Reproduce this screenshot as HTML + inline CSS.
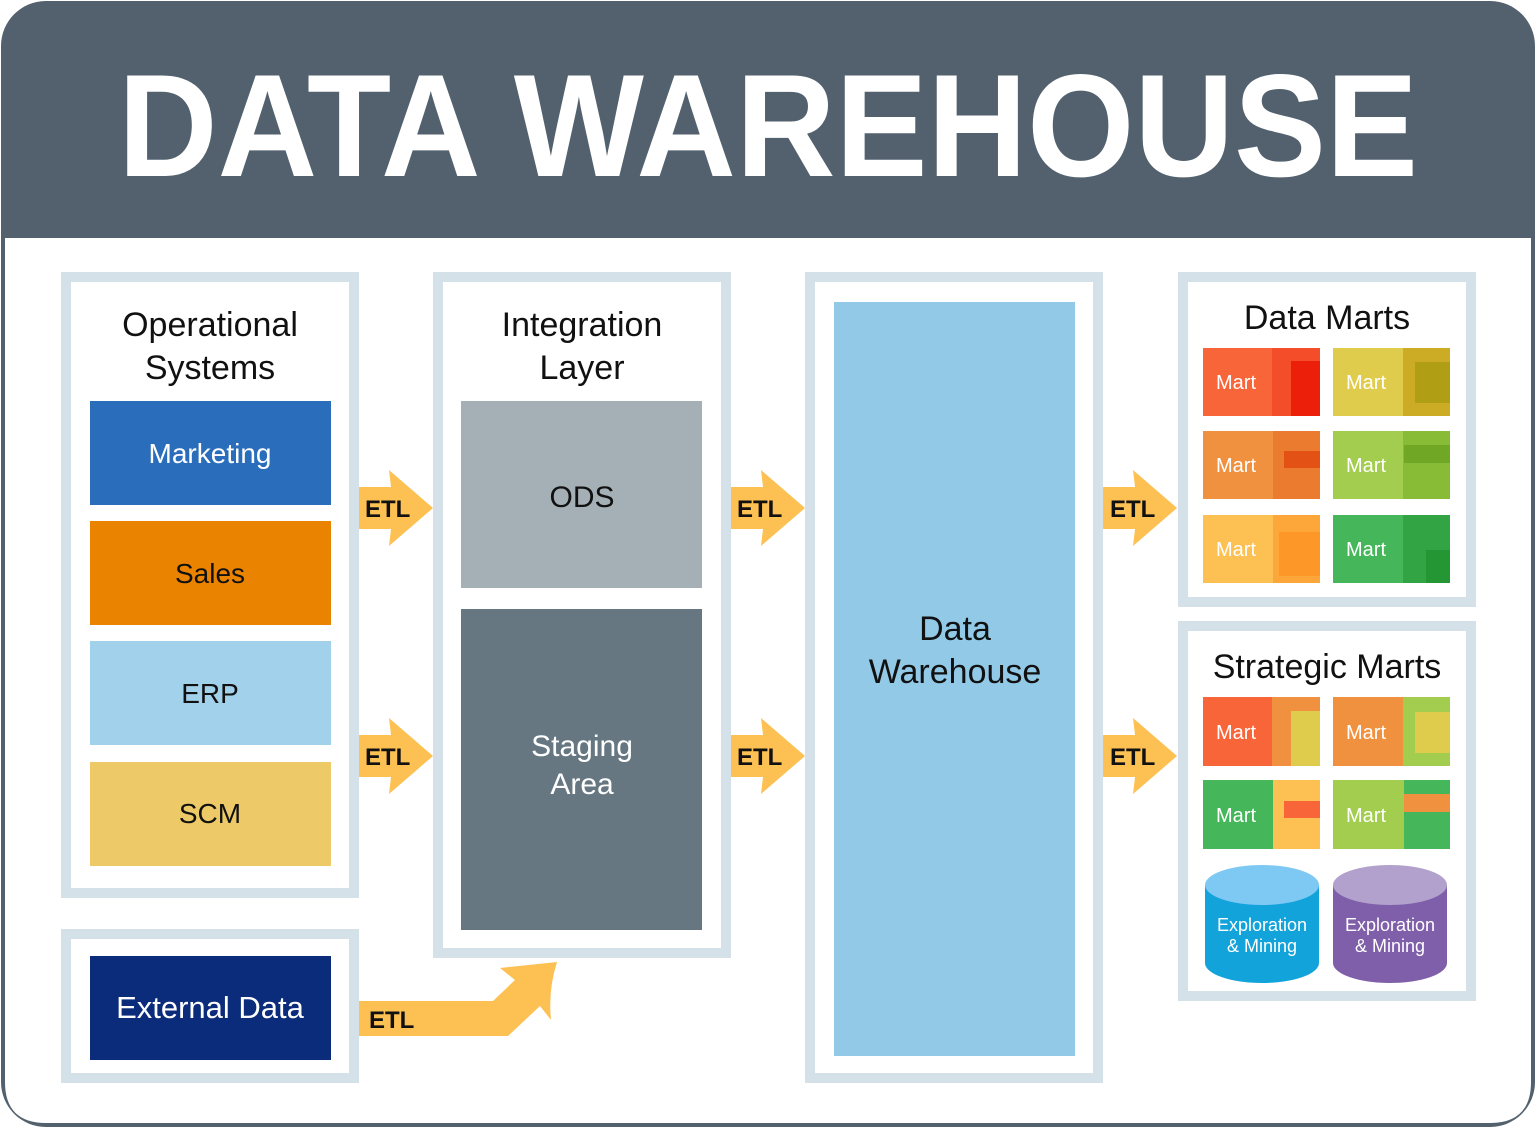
<!DOCTYPE html>
<html><head><meta charset="utf-8"><style>html,body{margin:0;padding:0;background:#fff}svg{display:block}</style></head>
<body>
<svg width="1536" height="1128" viewBox="0 0 1536 1128" xmlns="http://www.w3.org/2000/svg" font-family="'Liberation Sans', 'DejaVu Sans', sans-serif">
<defs>
<g id="arr"><path d="M0,-21 L32,-21 L30,-38 L74,0 L30,38 L32,21 L0,21 Z" fill="#fdc052"/></g>
</defs>
<rect x="1" y="1" width="1534" height="1126" rx="45" fill="#52616d"/>
<path d="M5,238 H1531 V1082 Q1531,1123 1490,1123 H46 Q5,1123 5,1082 Z" fill="#fff"/>
<text x="768" y="176" text-anchor="middle" font-size="146" font-weight="bold" fill="#fff" textLength="1300" lengthAdjust="spacingAndGlyphs">DATA WAREHOUSE</text>

<g fill="#fff" stroke="#d5e1e9" stroke-width="10">
<rect x="66" y="277" width="288" height="616"/>
<rect x="438" y="277" width="288" height="676"/>
<rect x="810" y="277" width="288" height="801"/>
<rect x="1183" y="277" width="288" height="325"/>
<rect x="1183" y="626" width="288" height="370"/>
<rect x="66" y="934" width="288" height="144"/>
</g>

<g font-size="34" fill="#111" text-anchor="middle">
<text x="210" y="336">Operational</text><text x="210" y="379">Systems</text>
<text x="582" y="336">Integration</text><text x="582" y="379">Layer</text>
<text x="1327" y="329">Data Marts</text>
<text x="1327" y="678">Strategic Marts</text>
</g>

<rect x="90" y="401" width="241" height="104" fill="#2a6ebb"/>
<rect x="90" y="521" width="241" height="104" fill="#e98300"/>
<rect x="90" y="641" width="241" height="104" fill="#a2d1ec"/>
<rect x="90" y="762" width="241" height="104" fill="#edca67"/>
<rect x="90" y="956" width="241" height="104" fill="#0a2c7a"/>
<rect x="461" y="401" width="241" height="187" fill="#a5b0b6"/>
<rect x="461" y="609" width="241" height="321" fill="#667782"/>
<rect x="834" y="302" width="241" height="754" fill="#92c9e7"/>

<g font-size="28" text-anchor="middle">
<text x="210" y="463" fill="#fff">Marketing</text>
<text x="210" y="583" fill="#111">Sales</text>
<text x="210" y="703" fill="#111">ERP</text>
<text x="210" y="823" fill="#111">SCM</text>
<text x="210" y="1018" fill="#fff" font-size="31">External Data</text>
<text x="582" y="507" fill="#111" font-size="30">ODS</text>
<text x="582" y="756" fill="#fff" font-size="30">Staging</text>
<text x="582" y="794" fill="#fff" font-size="30">Area</text>
<text x="955" y="640" fill="#111" font-size="34">Data</text>
<text x="955" y="683" fill="#111" font-size="34">Warehouse</text>
</g>

<rect x="1203" y="348" width="117" height="68" fill="#f76539"/><rect x="1272" y="348" width="48" height="68" fill="#f44d2a"/><rect x="1291" y="361" width="29" height="55" fill="#ec1f0b"/>
<rect x="1333" y="348" width="117" height="68" fill="#e0cc4c"/><rect x="1403" y="348" width="47" height="68" fill="#cdac25"/><rect x="1415" y="362" width="35" height="41" fill="#b09f14"/>
<rect x="1203" y="431" width="117" height="68" fill="#f09140"/><rect x="1273" y="431" width="47" height="68" fill="#eb7b2e"/><rect x="1284" y="451" width="36" height="17" fill="#e35214"/>
<rect x="1333" y="431" width="117" height="68" fill="#a3cd4e"/><rect x="1403" y="431" width="47" height="68" fill="#88bb36"/><rect x="1404" y="445" width="46" height="18" fill="#70a826"/>
<rect x="1203" y="515" width="117" height="68" fill="#fdc052"/><rect x="1273" y="515" width="47" height="68" fill="#fda73a"/><rect x="1279" y="532" width="41" height="44" fill="#fd9728"/>
<rect x="1333" y="515" width="117" height="68" fill="#45b65a"/><rect x="1403" y="515" width="47" height="68" fill="#33a444"/><rect x="1426" y="550" width="24" height="33" fill="#249634"/>

<rect x="1203" y="697" width="117" height="69" fill="#f76539"/><rect x="1272" y="697" width="48" height="69" fill="#f09140"/><rect x="1291" y="711" width="29" height="55" fill="#e0cc4c"/>
<rect x="1333" y="697" width="117" height="69" fill="#f09140"/><rect x="1403" y="697" width="47" height="69" fill="#a3cd4e"/><rect x="1415" y="712" width="35" height="41" fill="#e0cc4c"/>
<rect x="1203" y="780" width="117" height="69" fill="#45b65a"/><rect x="1273" y="780" width="47" height="69" fill="#fdc052"/><rect x="1284" y="801" width="36" height="17" fill="#f76539"/>
<rect x="1333" y="780" width="117" height="69" fill="#a3cd4e"/><rect x="1404" y="780" width="46" height="69" fill="#45b65a"/><rect x="1404" y="794" width="46" height="18" fill="#f09140"/>

<g font-size="20" fill="#fff">
<text x="1216" y="389">Mart</text><text x="1346" y="389">Mart</text>
<text x="1216" y="472">Mart</text><text x="1346" y="472">Mart</text>
<text x="1216" y="556">Mart</text><text x="1346" y="556">Mart</text>
<text x="1216" y="739">Mart</text><text x="1346" y="739">Mart</text>
<text x="1216" y="822">Mart</text><text x="1346" y="822">Mart</text>
</g>

<path d="M1205,885 V963 A57,20 0 0 0 1319,963 V885 Z" fill="#13a3db"/>
<ellipse cx="1262" cy="885" rx="57" ry="20" fill="#7ec8f4"/>
<path d="M1333,885 V963 A57,20 0 0 0 1447,963 V885 Z" fill="#7f5fa9"/>
<ellipse cx="1390" cy="885" rx="57" ry="20" fill="#b1a1cc"/>
<g font-size="18" fill="#fff" text-anchor="middle">
<text x="1262" y="931">Exploration</text><text x="1262" y="952">&amp; Mining</text>
<text x="1390" y="931">Exploration</text><text x="1390" y="952">&amp; Mining</text>
</g>

<use href="#arr" x="359" y="508"/><use href="#arr" x="359" y="756"/>
<use href="#arr" x="731" y="508"/><use href="#arr" x="731" y="756"/>
<use href="#arr" x="1103" y="508"/><use href="#arr" x="1103" y="756"/>
<path d="M359,1001 L493,1001 L515,980 L500,968 L557,962 Q548,990 551,1020 L540,1006 L508,1036 L359,1036 Z" fill="#fdc052"/>
<g font-size="24" font-weight="bold" fill="#111">
<text x="365" y="517">ETL</text><text x="365" y="765">ETL</text>
<text x="737" y="517">ETL</text><text x="737" y="765">ETL</text>
<text x="1110" y="517">ETL</text><text x="1110" y="765">ETL</text>
<text x="369" y="1028">ETL</text>
</g>
</svg>
</body></html>
